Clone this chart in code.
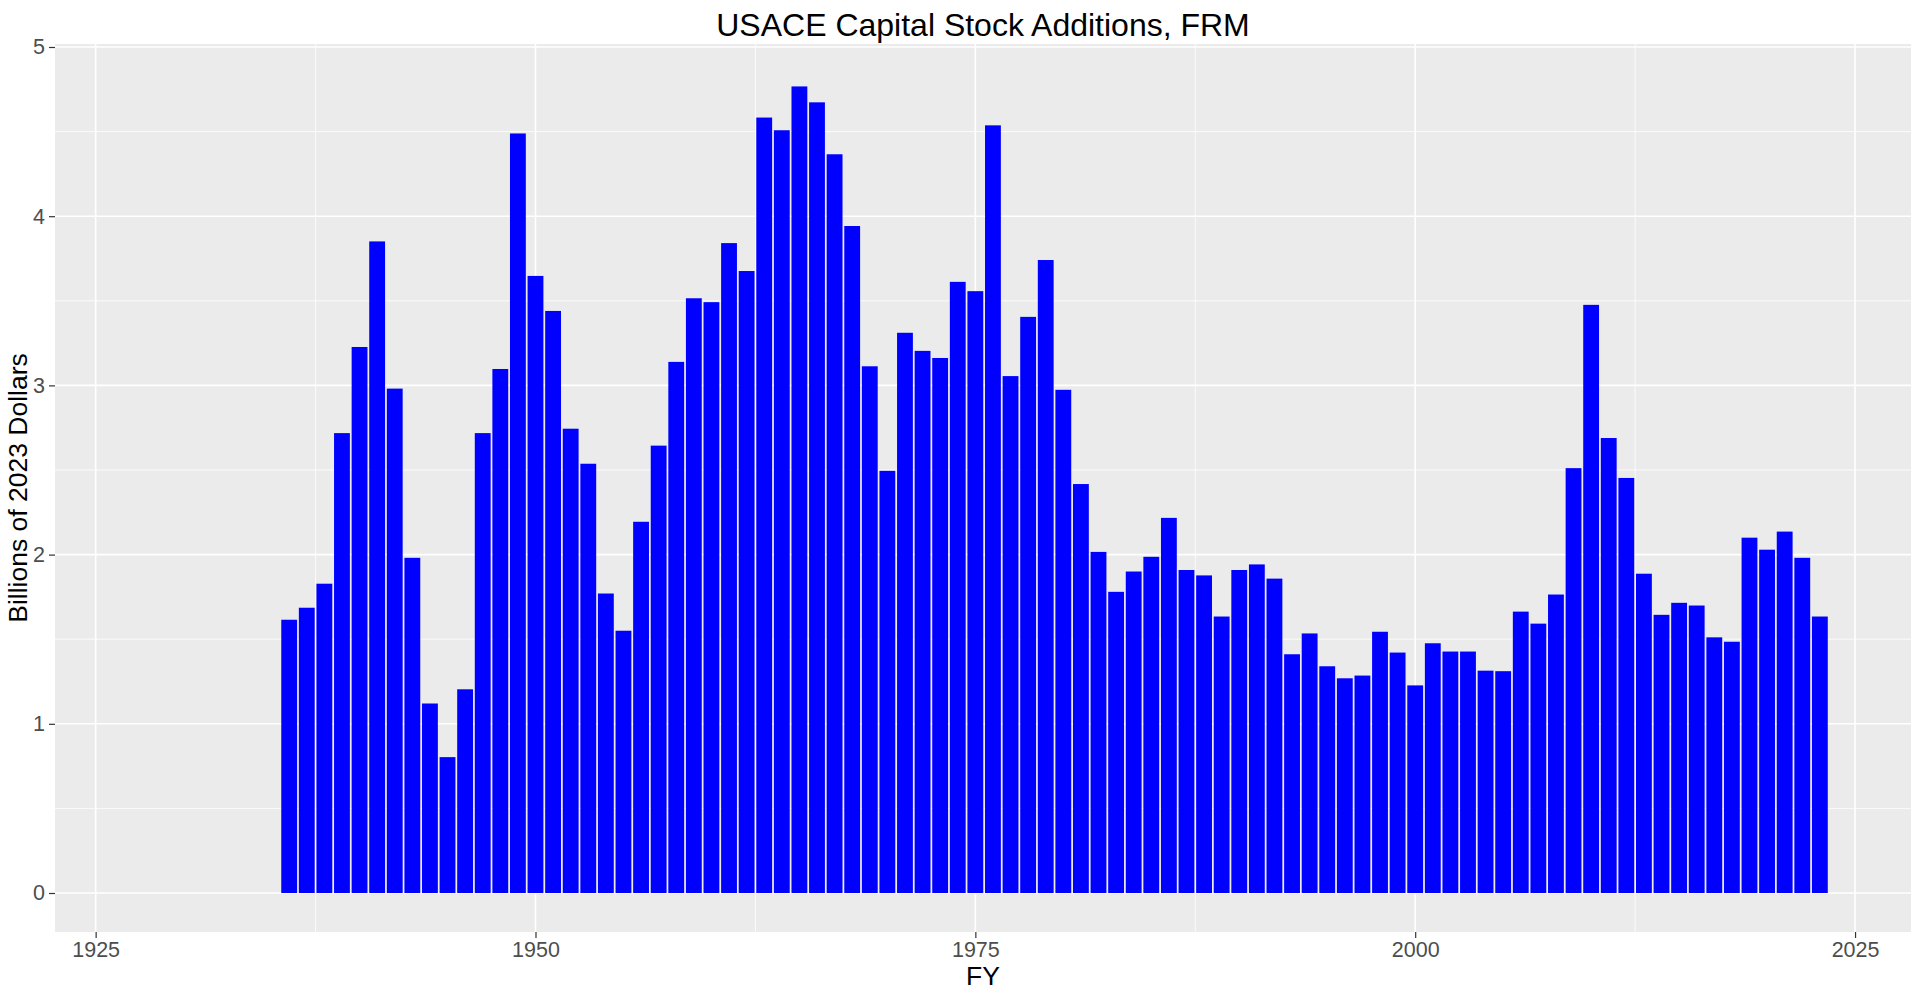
<!DOCTYPE html>
<html>
<head>
<meta charset="utf-8">
<script src="https://cdn.jsdelivr.net/npm/d3@7"></script>
<style>
  body { margin: 0; background: #fff; }
  text { font-family: 'Liberation Sans', Arial, sans-serif; }
</style>
</head>
<body>
<div id="chart"></div>
<script>
const years = d3.range(1936, 2024)

const values = [
  1.615, 1.686, 1.828, 2.718, 3.227, 3.851, 2.981, 1.981, 1.120, 0.803,
  1.204, 2.718, 3.097, 4.489, 3.647, 3.440, 2.744, 2.537, 1.770, 1.550,
  2.194, 2.644, 3.139, 3.515, 3.492, 3.841, 3.676, 4.583, 4.508, 4.767,
  4.673, 4.366, 3.942, 3.113, 2.495, 3.311, 3.204, 3.162, 3.612, 3.557,
  4.537, 3.055, 3.405, 3.741, 2.974, 2.417, 2.016, 1.780, 1.900, 1.987,
  2.217, 1.909, 1.877, 1.634, 1.909, 1.942, 1.858, 1.411, 1.534, 1.340,
  1.269, 1.285, 1.544, 1.421, 1.227, 1.476, 1.427, 1.427, 1.314, 1.311,
  1.663, 1.592, 1.764, 2.511, 3.476, 2.689, 2.453, 1.887, 1.644, 1.715,
  1.699, 1.511, 1.485, 2.100, 2.029, 2.136, 1.981, 1.634
]

const xTicks = [1925, 1950, 1975, 2000, 2025]
const xMinor = [1937.5, 1962.5, 1987.5, 2012.5]
const yTicks = [0, 1, 2, 3, 4, 5]
const yMinor = [0.5, 1.5, 2.5, 3.5, 4.5]

const datapoints = years.map((yr, i) => ({ year: yr, value: values[i] }))

const width = 1920
const height = 997
const panel = { left: 55, right: 1911, top: 44, bottom: 932 }

const svg = d3
  .select('#chart')
  .append('svg')
  .attr('width', width)
  .attr('height', height)

const xScale = d3
  .scaleLinear()
  .domain([1922.69, 2028.18])
  .range([panel.left, panel.right])

const yScale = d3
  .scaleLinear()
  .domain([0, 5])
  .range([893, 47])

// panel background
svg
  .append('rect')
  .attr('x', panel.left)
  .attr('y', panel.top)
  .attr('width', panel.right - panel.left)
  .attr('height', panel.bottom - panel.top)
  .attr('fill', '#EBEBEB')

// minor grid
svg
  .selectAll('.minor-x')
  .data(xMinor)
  .enter()
  .append('line')
  .attr('x1', d => xScale(d))
  .attr('x2', d => xScale(d))
  .attr('y1', panel.top)
  .attr('y2', panel.bottom)
  .attr('stroke', '#fff')
  .attr('stroke-width', 0.8)

svg
  .selectAll('.minor-y')
  .data(yMinor)
  .enter()
  .append('line')
  .attr('x1', panel.left)
  .attr('x2', panel.right)
  .attr('y1', d => yScale(d))
  .attr('y2', d => yScale(d))
  .attr('stroke', '#fff')
  .attr('stroke-width', 0.8)

// major grid
svg
  .selectAll('.major-x')
  .data(xTicks)
  .enter()
  .append('line')
  .attr('x1', d => xScale(d))
  .attr('x2', d => xScale(d))
  .attr('y1', panel.top)
  .attr('y2', panel.bottom)
  .attr('stroke', '#fff')
  .attr('stroke-width', 1.6)

svg
  .selectAll('.major-y')
  .data(yTicks)
  .enter()
  .append('line')
  .attr('x1', panel.left)
  .attr('x2', panel.right)
  .attr('y1', d => yScale(d))
  .attr('y2', d => yScale(d))
  .attr('stroke', '#fff')
  .attr('stroke-width', 1.6)

// bars
svg
  .selectAll('.bar')
  .data(datapoints)
  .enter()
  .append('rect')
  .attr('class', 'bar')
  .attr('x', d => xScale(d.year - 0.45))
  .attr('width', d => xScale(d.year + 0.45) - xScale(d.year - 0.45))
  .attr('y', d => yScale(d.value))
  .attr('height', d => yScale(0) - yScale(d.value))
  .attr('fill', '#0000FF')

// x axis
const xAxis = d3
  .axisBottom(xScale)
  .tickValues(xTicks)
  .tickFormat(d3.format('d'))
  .tickSize(6)
  .tickPadding(4)

const gx = svg
  .append('g')
  .attr('transform', `translate(0,${panel.bottom})`)
  .call(xAxis)
gx.select('.domain').remove()
gx.selectAll('line').attr('stroke', '#333333').attr('stroke-width', 1.2)
gx.selectAll('text')
  .attr('fill', '#4D4D4D')
  .attr('font-size', 21.5)
  .attr('font-family', "'Liberation Sans', Arial, sans-serif")

// y axis
const yAxis = d3
  .axisLeft(yScale)
  .tickValues(yTicks)
  .tickFormat(d3.format('d'))
  .tickSize(6)
  .tickPadding(4)

const gy = svg
  .append('g')
  .attr('transform', `translate(${panel.left},0)`)
  .call(yAxis)
gy.select('.domain').remove()
gy.selectAll('line').attr('stroke', '#333333').attr('stroke-width', 1.2)
gy.selectAll('text')
  .attr('fill', '#4D4D4D')
  .attr('font-size', 21.5)
  .attr('font-family', "'Liberation Sans', Arial, sans-serif")

// titles
svg
  .append('text')
  .text('USACE Capital Stock Additions, FRM')
  .attr('x', (panel.left + panel.right) / 2)
  .attr('y', 36)
  .attr('text-anchor', 'middle')
  .attr('font-size', 32)
  .attr('fill', '#000')

svg
  .append('text')
  .text('FY')
  .attr('x', (panel.left + panel.right) / 2)
  .attr('y', 985)
  .attr('text-anchor', 'middle')
  .attr('font-size', 26.5)
  .attr('fill', '#000')

svg
  .append('text')
  .text('Billions of 2023 Dollars')
  .attr('transform', `translate(27,${(panel.top + panel.bottom) / 2}) rotate(-90)`)
  .attr('text-anchor', 'middle')
  .attr('font-size', 26.5)
  .attr('fill', '#000')
</script>
</body>
</html>
